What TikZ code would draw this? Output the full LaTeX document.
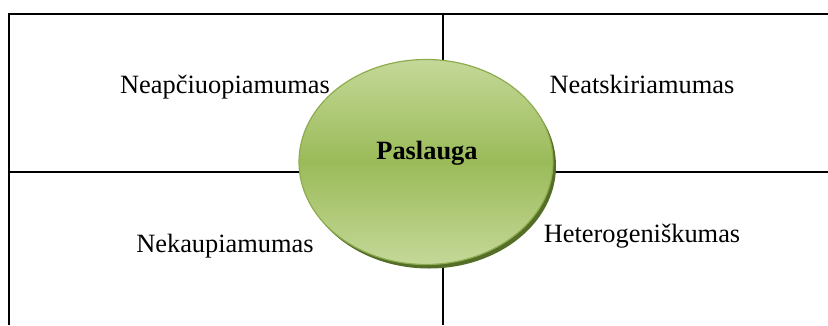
\documentclass[tikz,border=0pt]{standalone}
\usepackage{fontspec}
\setmainfont{Liberation Serif}
\usetikzlibrary{shapes.geometric,shadows}
\definecolor{gLight}{RGB}{196,216,152}
\definecolor{gMid}{RGB}{155,187,89}
\definecolor{gEdge}{RGB}{140,172,78}
\definecolor{gShadow}{RGB}{84,110,40}
\tikzset{
  gridline/.style={line width=2pt,black},
  lbl/.style={anchor=base,inner sep=0pt,font=\fontsize{26.4}{30}\selectfont},
  hub/.style={ellipse,minimum width=254pt,minimum height=205pt,inner sep=0pt,
    draw=gEdge,line width=1.2pt,top color=gLight,bottom color=gLight,middle color=gMid,
    drop shadow={shadow xshift=3pt,shadow yshift=-4pt,fill=gShadow,opacity=1}}
}
\begin{document}
\begin{tikzpicture}[x=1pt,y=-1pt]
\useasboundingbox (0,0) rectangle (828,325);
\coordinate (tl) at (9,14);
\coordinate (tr) at (828,14);
\coordinate (bl) at (9,325);
\coordinate (ml) at (9,172);
\coordinate (mr) at (828,172);
\coordinate (mt) at (443,14);
\coordinate (mb) at (443,325);
\draw[gridline] (bl) -- (tl) -- (tr);
\draw[gridline] (ml) -- (mr);
\draw[gridline] (mt) -- (mb);
\node[hub] (hub) at (426,162) {};
\node[lbl,font=\fontsize{26.4}{30}\selectfont\bfseries] (p) at (427,159) {Paslauga};
\node[lbl] (a) at (225,93) {Neapčiuopiamumas};
\node[lbl] (b) at (642,93) {Neatskiriamumas};
\node[lbl] (c) at (225,252) {Nekaupiamumas};
\node[lbl] (d) at (642,242) {Heterogeniškumas};
\end{tikzpicture}
\end{document}
